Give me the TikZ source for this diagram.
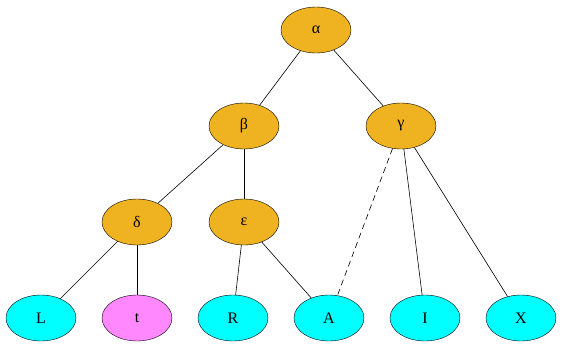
\documentclass[tikz,border=0pt]{standalone}
\usepackage{fontspec}
\setmainfont{Liberation Serif}
\usetikzlibrary{shapes.geometric}
\definecolor{inner}{RGB}{239,179,34}
\definecolor{leafc}{RGB}{0,255,255}
\definecolor{leafp}{RGB}{255,136,255}

\begin{document}
\begin{tikzpicture}[x=1pt,y=-1pt,
  vtx/.style={draw=black, ellipse, fill=inner, minimum width=70pt, minimum height=46pt, inner sep=0pt, font=\fontsize{16}{18}\selectfont},
  leaf/.style={vtx, fill=leafc},
  edge/.style={black, line width=0.6pt}]
\useasboundingbox (0,0) rectangle (562,346);
\node[vtx] (alpha) at (316,30) {α};
\node[vtx] (beta) at (244,126) {β};
\node[vtx] (gamma) at (401,126) {γ};
\node[vtx] (delta) at (137,222) {δ};
\node[vtx] (eps) at (244,222) {ε};
\node[leaf] (L) at (41,318) {L};
\node[leaf, fill=leafp] (t) at (137,318) {t};
\node[leaf] (R) at (233,318) {R};
\node[leaf] (A) at (329,318) {A};
\node[leaf] (I) at (425,318) {I};
\node[leaf] (X) at (521,318) {X};
\draw[edge] (alpha) -- (beta);
\draw[edge] (alpha) -- (gamma);
\draw[edge] (beta) -- (delta);
\draw[edge] (beta) -- (eps);
\draw[edge] (delta) -- (L);
\draw[edge] (delta) -- (t);
\draw[edge] (eps) -- (R);
\draw[edge] (eps) -- (A);
\draw[edge, dashed, dash pattern=on 6pt off 4pt] (gamma) -- (A);
\draw[edge] (gamma) -- (I);
\draw[edge] (gamma) -- (X);
\end{tikzpicture}
\end{document}
